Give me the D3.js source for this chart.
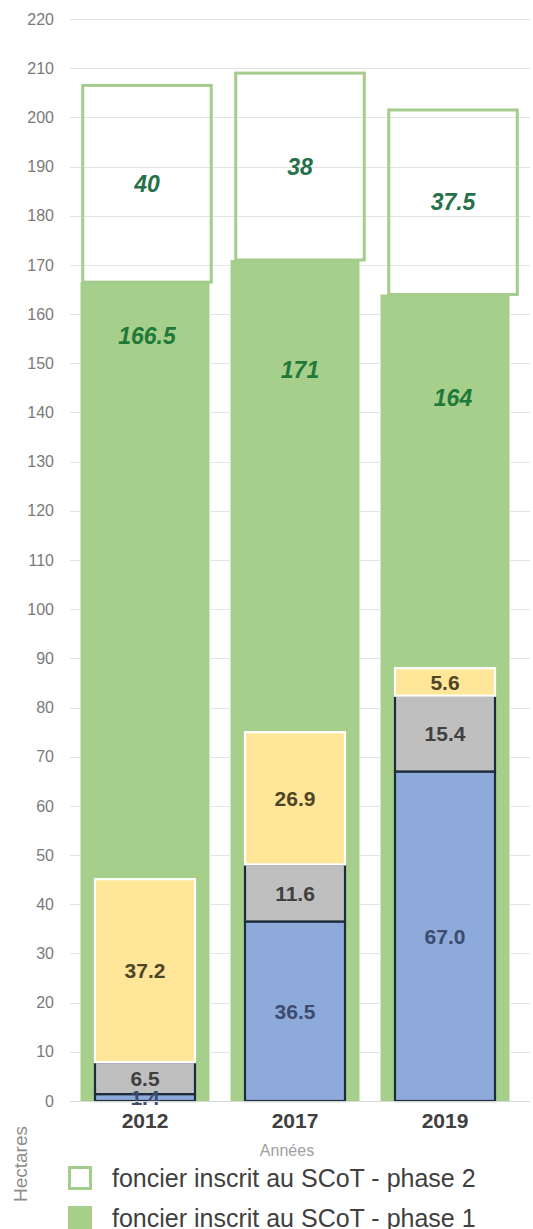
<!DOCTYPE html>
<html>
<head>
<meta charset="utf-8">
<script src="https://cdn.jsdelivr.net/npm/d3@7"></script>
<style>
  html, body { margin: 0; padding: 0; background: #fff; }
  svg { display: block; font-family: "Liberation Sans", Arial, sans-serif; }
</style>
</head>
<body>
<svg id="chart" width="533" height="1229"></svg>
<script>
// Foncier (hectares) par année
const years = ["2012", "2017", "2019"];
const phase1 = [166.5, 171, 164];          // foncier inscrit au SCoT - phase 1
const phase2 = [40, 38, 37.5];             // foncier inscrit au SCoT - phase 2
const consumedA = [1.4, 36.5, 67.0];       // bas de pile (bleu)
const consumedB = [6.5, 11.6, 15.4];       // milieu de pile (gris)
const consumedC = [37.2, 26.9, 5.6];       // haut de pile (jaune)
const yTicks = d3.range(0, 221, 10);
const legendLabels = ["foncier inscrit au SCoT - phase 2", "foncier inscrit au SCoT - phase 1"];

const svg = d3.select("#chart");

const y = d3.scaleLinear().domain([0, 220]).range([1101, 19]);
const x = d3.scaleBand().domain(years).range([70, 520]).paddingInner(0.14).paddingOuter(0.07);
const x2 = d3.scaleBand().domain(years).range([72, 528]).paddingInner(0.16).paddingOuter(0.07);
const innerW = 100;
const green = "#a6cf8b";

// Phase 1 (filled green), drawn beneath the gridlines' visible parts
svg.append("g").selectAll("rect").data(years).join("rect")
  .attr("x", d => x(d)).attr("width", x.bandwidth())
  .attr("y", (d, i) => y(phase1[i]))
  .attr("height", (d, i) => y(0) - y(phase1[i]))
  .attr("fill", green);

// Gridlines (only between and above the filled bars)
const grid = svg.append("g");
yTicks.forEach(t => {
  const gy = Math.round(y(t)) + 0.5;
  // segments not covered by a filled phase-1 bar
  const edges = [70];
  years.forEach((yr, i) => {
    if (t < phase1[i]) { edges.push(x(yr)); edges.push(x(yr) + x.bandwidth()); }
  });
  edges.push(530);
  for (let k = 0; k < edges.length; k += 2) {
    if (edges[k + 1] > edges[k]) {
      grid.append("line").attr("x1", edges[k]).attr("x2", edges[k + 1])
        .attr("y1", gy).attr("y2", gy)
        .attr("stroke", "#e3e3e3").attr("stroke-width", 1);
    }
  }
});

// Y axis labels
const yAxis = d3.axisLeft(y).tickValues(yTicks).tickSize(0).tickPadding(0);
svg.append("g").attr("transform", "translate(54,0)").call(yAxis)
  .call(g => g.select(".domain").remove())
  .call(g => g.selectAll("text")
    .attr("font-size", 16).attr("fill", "#7a7a7a")
    .attr("font-family", "Liberation Sans, Arial, sans-serif"));

// Phase 2 (outlined, stacked above phase 1)
svg.append("g").selectAll("rect").data(years).join("rect")
  .attr("x", d => x2(d)).attr("width", x2.bandwidth())
  .attr("y", (d, i) => y(phase1[i] + phase2[i]))
  .attr("height", (d, i) => y(phase1[i]) - y(phase1[i] + phase2[i]))
  .attr("fill", "none").attr("stroke", "#a4cc8c").attr("stroke-width", 3);

// Inner stack
const stackSeries = [
  { values: consumedA, fill: "#8eaadb", stroke: "#1d2b3a", text: "#3b4c6e" },
  { values: consumedB, fill: "#bfbfbf", stroke: "#1d2b3a", text: "#404040" },
  { values: consumedC, fill: "#ffe699", stroke: "#ffffff", text: "#4d4526" }
];
const inner = svg.append("g");
stackSeries.forEach((s, si) => {
  const base = years.map((_, i) => d3.sum(stackSeries.slice(0, si), p => p.values[i]));
  inner.append("g").selectAll("rect").data(years).join("rect")
    .attr("x", d => x(d) + x.bandwidth() / 2 - innerW / 2).attr("width", innerW)
    .attr("y", (d, i) => y(base[i] + s.values[i]))
    .attr("height", (d, i) => y(base[i]) - y(base[i] + s.values[i]))
    .attr("fill", s.fill).attr("stroke", s.stroke).attr("stroke-width", 2.2);
  s.base = base;
});
stackSeries.forEach(s => {
  inner.append("g").selectAll("text").data(years).join("text")
    .attr("x", d => x(d) + x.bandwidth() / 2)
    .attr("y", (d, i) => y(s.base[i] + s.values[i] / 2))
    .attr("dy", "0.36em")
    .attr("text-anchor", "middle")
    .attr("font-size", 21).attr("font-weight", "bold")
    .attr("fill", s.text)
    .text((d, i) => d3.format(".1f")(s.values[i]));
});

// Phase labels (green italic)
const phase1LabelDrop = [54, 110, 103];
const fmt = v => String(v);
svg.append("g").selectAll("text").data(years).join("text")
  .attr("x", d => x2(d) + x2.bandwidth() / 2)
  .attr("y", (d, i) => y(phase1[i]) + phase1LabelDrop[i])
  .attr("dy", "0.36em").attr("text-anchor", "middle")
  .attr("font-size", 23).attr("font-weight", "bold").attr("font-style", "italic")
  .attr("fill", "#1f7a3a")
  .text((d, i) => fmt(phase1[i]));
svg.append("g").selectAll("text").data(years).join("text")
  .attr("x", d => x2(d) + x2.bandwidth() / 2)
  .attr("y", (d, i) => y(phase1[i] + phase2[i] / 2))
  .attr("dy", "0.36em").attr("text-anchor", "middle")
  .attr("font-size", 23).attr("font-weight", "bold").attr("font-style", "italic")
  .attr("fill", "#26704a")
  .text((d, i) => fmt(phase2[i]));

// X axis
svg.append("line").attr("x1", 70).attr("x2", 530)
  .attr("y1", y(0) + 0.5).attr("y2", y(0) + 0.5)
  .attr("stroke", "#d9d9d9");
const xAxis = d3.axisBottom(x).tickSize(0).tickPadding(0);
svg.append("g").attr("transform", `translate(0,${y(0)})`).call(xAxis)
  .call(g => g.select(".domain").remove())
  .call(g => g.selectAll("text")
    .attr("y", 27).attr("dy", 0)
    .attr("font-size", 21).attr("font-weight", "bold").attr("fill", "#404040")
    .attr("font-family", "Liberation Sans, Arial, sans-serif"));

svg.append("text").attr("x", 287).attr("y", 1156)
  .attr("text-anchor", "middle").attr("font-size", 16).attr("fill", "#a0a0a0")
  .text("Années");

svg.append("text")
  .attr("transform", "translate(27,1164) rotate(-90)")
  .attr("text-anchor", "middle").attr("font-size", 19).attr("fill", "#8c8c8c")
  .text("Hectares");

// Legend
const legend = svg.append("g");
legendLabels.forEach((label, i) => {
  const cy = 1178 + i * 40;
  if (i === 0) {
    legend.append("rect").attr("x", 69.5).attr("y", cy - 10.5).attr("width", 21).attr("height", 21)
      .attr("fill", "#fff").attr("stroke", "#a4cc8c").attr("stroke-width", 3);
  } else {
    legend.append("rect").attr("x", 68).attr("y", cy - 12).attr("width", 24).attr("height", 24)
      .attr("fill", green);
  }
  legend.append("text").attr("x", 112).attr("y", cy).attr("dy", "0.36em")
    .attr("font-size", 25).attr("fill", "#404040").text(label);
});
</script>
</body>
</html>
